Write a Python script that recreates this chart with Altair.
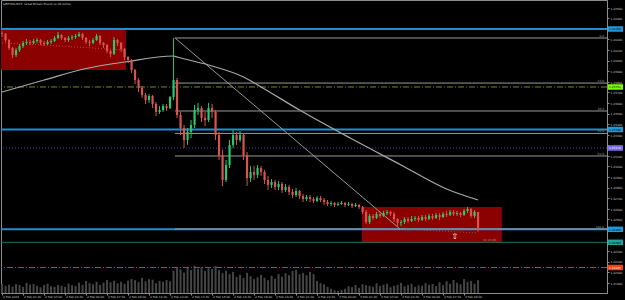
import altair as alt
import pandas as pd

TITLE = "GBPUSD,M15:  Great Britain Pound vs US Dollar"
FIRST_OPEN = 1.24261

close = [
    1.24252, 1.24195, 1.24119, 1.24053, 1.24100, 1.24138, 1.24167, 1.24176, 1.24167, 1.24186,
    1.24195, 1.24167, 1.24157, 1.24176, 1.24186, 1.24214, 1.24242, 1.24214, 1.24195, 1.24214,
    1.24223, 1.24233, 1.24252, 1.24214, 1.24176, 1.24167, 1.24195, 1.24233, 1.24167, 1.24148,
    1.24091, 1.24063, 1.24195, 1.24167, 1.24110, 1.24034, 1.24006, 1.23911, 1.23817, 1.23741,
    1.23675, 1.23628, 1.23666, 1.23590, 1.23515, 1.23533, 1.23571, 1.23552, 1.23656, 1.23817,
    1.23486, 1.23363, 1.23250, 1.23326, 1.23392, 1.23533, 1.23552, 1.23458, 1.23439, 1.23552,
    1.23515, 1.23297, 1.23108, 1.22872, 1.23014, 1.23203, 1.23297, 1.23250, 1.23297, 1.23108,
    1.22891, 1.22948, 1.22919, 1.22985, 1.22948, 1.22872, 1.22825, 1.22853, 1.22806, 1.22834,
    1.22777, 1.22806, 1.22759, 1.22730, 1.22768, 1.22721, 1.22692, 1.22711, 1.22692, 1.22674,
    1.22702, 1.22683, 1.22664, 1.22645, 1.22655, 1.22636, 1.22645, 1.22655, 1.22636, 1.22645,
    1.22626, 1.22636, 1.22617, 1.22570, 1.22475, 1.22532, 1.22513, 1.22551, 1.22532, 1.22560,
    1.22570, 1.22551, 1.22503, 1.22466, 1.22475, 1.22503, 1.22485, 1.22503, 1.22513, 1.22494,
    1.22522, 1.22503, 1.22532, 1.22513, 1.22541, 1.22522, 1.22551, 1.22541, 1.22570, 1.22551,
    1.22560, 1.22541, 1.22579, 1.22598, 1.22532, 1.22570, 1.22399]

high = [
    1.24280, 1.24261, 1.24204, 1.24129, 1.24119, 1.24157, 1.24186, 1.24204, 1.24195, 1.24204,
    1.24214, 1.24204, 1.24186, 1.24195, 1.24204, 1.24233, 1.24271, 1.24252, 1.24223, 1.24233,
    1.24242, 1.24252, 1.24271, 1.24261, 1.24223, 1.24195, 1.24214, 1.24252, 1.24242, 1.24176,
    1.24157, 1.24100, 1.24223, 1.24204, 1.24176, 1.24119, 1.24044, 1.24015, 1.23921, 1.23836,
    1.23760, 1.23694, 1.23685, 1.23675, 1.23609, 1.23571, 1.23590, 1.23590, 1.23666, 1.24214,
    1.23836, 1.23515, 1.23392, 1.23363, 1.23439, 1.23581, 1.23600, 1.23571, 1.23515, 1.23600,
    1.23590, 1.23533, 1.23326, 1.23155, 1.23061, 1.23250, 1.23344, 1.23326, 1.23335, 1.23316,
    1.23137, 1.23004, 1.23004, 1.23014, 1.23004, 1.22966, 1.22910, 1.22881, 1.22872, 1.22863,
    1.22853, 1.22834, 1.22825, 1.22787, 1.22796, 1.22777, 1.22740, 1.22730, 1.22730, 1.22711,
    1.22721, 1.22721, 1.22702, 1.22683, 1.22674, 1.22664, 1.22664, 1.22674, 1.22664, 1.22664,
    1.22655, 1.22655, 1.22645, 1.22626, 1.22588, 1.22551, 1.22551, 1.22570, 1.22570, 1.22579,
    1.22588, 1.22579, 1.22570, 1.22513, 1.22494, 1.22522, 1.22522, 1.22532, 1.22532, 1.22532,
    1.22541, 1.22541, 1.22551, 1.22551, 1.22560, 1.22560, 1.22570, 1.22579, 1.22588, 1.22588,
    1.22579, 1.22570, 1.22598, 1.22617, 1.22607, 1.22588, 1.22570]

low = [
    1.24223, 1.24176, 1.24100, 1.24025, 1.24034, 1.24082, 1.24119, 1.24148, 1.24148, 1.24157,
    1.24167, 1.24148, 1.24138, 1.24148, 1.24157, 1.24176, 1.24204, 1.24195, 1.24176, 1.24176,
    1.24195, 1.24204, 1.24223, 1.24195, 1.24157, 1.24138, 1.24157, 1.24186, 1.24148, 1.24119,
    1.24072, 1.24034, 1.24053, 1.24138, 1.24082, 1.24006, 1.23978, 1.23883, 1.23779, 1.23704,
    1.23647, 1.23590, 1.23600, 1.23552, 1.23477, 1.23496, 1.23515, 1.23524, 1.23543, 1.23628,
    1.23458, 1.23297, 1.23174, 1.23203, 1.23269, 1.23363, 1.23486, 1.23420, 1.23382, 1.23420,
    1.23458, 1.23250, 1.23061, 1.22815, 1.22853, 1.22985, 1.23174, 1.23203, 1.23231, 1.23061,
    1.22815, 1.22853, 1.22872, 1.22891, 1.22910, 1.22834, 1.22777, 1.22796, 1.22777, 1.22777,
    1.22749, 1.22759, 1.22730, 1.22702, 1.22711, 1.22692, 1.22664, 1.22674, 1.22664, 1.22655,
    1.22664, 1.22664, 1.22636, 1.22626, 1.22626, 1.22617, 1.22626, 1.22636, 1.22617, 1.22626,
    1.22607, 1.22617, 1.22598, 1.22551, 1.22456, 1.22456, 1.22494, 1.22503, 1.22513, 1.22522,
    1.22541, 1.22532, 1.22475, 1.22437, 1.22437, 1.22456, 1.22466, 1.22475, 1.22485, 1.22475,
    1.22485, 1.22485, 1.22494, 1.22494, 1.22503, 1.22494, 1.22513, 1.22522, 1.22532, 1.22532,
    1.22532, 1.22522, 1.22532, 1.22560, 1.22513, 1.22513, 1.22381]

volume = [
    92, 71, 83, 64, 88, 79, 62, 101, 84, 90, 73, 58, 81, 94, 69, 63, 80,
    72, 61, 93, 78, 70, 104, 82, 121, 99, 88, 112, 79, 103, 131, 108, 122, 97, 113, 91,
    124, 141, 128, 109, 152, 118, 139, 133, 98, 121, 112, 129, 117,
    223, 251, 238, 204, 262, 231, 274, 243, 259, 219, 248, 240, 271, 229, 198, 221, 188, 212,
    161, 183, 149, 202, 168, 139, 158, 181, 152, 128, 171, 142, 189, 163, 198, 179, 221, 232, 188,
    201, 178, 212, 189, 121, 98, 87, 61, 42, 28, 19,
    31, 42, 68, 59, 81, 52, 88, 79, 71, 62, 98, 69, 83, 91, 58, 72, 81, 102, 68, 79,
    92, 61, 78, 73, 99, 82, 91, 69, 108, 79, 118, 92, 131, 101, 88, 139, 112, 121, 93, 128]

time_labels = [
    "2 Feb 2023", "2 Feb 01:30", "2 Feb 03:00", "2 Feb 04:30", "2 Feb 06:00", "2 Feb 07:30",
    "2 Feb 09:00", "2 Feb 10:30", "2 Feb 12:00", "2 Feb 13:30", "2 Feb 15:00", "2 Feb 16:30",
    "2 Feb 18:00", "2 Feb 19:30", "2 Feb 21:00", "2 Feb 22:30", "3 Feb 00:00", "3 Feb 01:30",
    "3 Feb 03:00", "3 Feb 04:30", "3 Feb 06:00", "3 Feb 07:30", "3 Feb 09:00"]

# moving average
ma_idx = [0, 12, 24, 35, 49, 50, 59, 69, 74, 85, 100, 114, 127, 136]
ma_val = [1.23704, 1.23817, 1.23926, 1.23987, 1.24044, 1.24034, 1.23959, 1.23845,
          1.23751, 1.23533, 1.23259, 1.23014, 1.22787, 1.22683]

# dotted red line inside the first box
dot_idx = [0, 17, 35]
dot_val = [1.24167, 1.24138, 1.24100]

# rectangles
box_x1 = [-0.3, 102.8]
box_x2 = [35.4, 142.8]
box_top = [1.24289, 1.22617]
box_bot = [1.23911, 1.22277]

# fibonacci
fib_names = ["0.0", "23.6", "38.2", "50.0", "61.8", "100.0"]
fib_levels = [1.24214, 1.23788, 1.23524, 1.23312, 1.23099, 1.22409]
fib_from = 49.4
trend_idx = [49.4, 113.7]
trend_val = [1.24214, 1.22409]
trend2_idx = [113.7, 136.0]
trend2_val = [1.22409, 1.22371]

# horizontal price lines
hl_price = [1.24299, 1.23751, 1.23349, 1.23174, 1.22406, 1.22283, 1.22045]

# annotations
arrow_idx = [129.4]
arrow_val = [1.22333]
timer_idx = [137.4]
timer_val = [1.22310]
timer_text = ["11:13:36"]

# ---------------- styles ----------------
X_MIN, X_MAX = -0.3, 172.84
Y_MIN, Y_MAX = 1.21804, 1.24573
UP, DOWN = "#27c96a", "#d9534f"
hl_color = ["#1e8fd6", "#6b8e23", "#1e8fd6", "#4b3f9e", "#1e8fd6", "#1b6f6f", "#c0401a"]
hl_width = [2, 1, 2, 1, 2, 1, 1]
hl_dash = [None, [6, 2, 1, 2], None, [1, 2], None, None, [6, 2, 1, 2]]
tag_color = ["#1e9ae0", "#7cfc00", "#1e9ae0", "#7b68ee", "#1e9ae0", "#20a29a", "#ff4000"]
tag_text = ["#000000", "#000000", "#000000", "#ffffff", "#000000", "#000000", "#ffffff"]
FONT = "DejaVu Sans"
GREY = "#8c8c8c"
FS = 2.9

xscale = alt.Scale(domain=[X_MIN, X_MAX], nice=False, zero=False)
yscale = alt.Scale(domain=[Y_MIN, Y_MAX], nice=False, zero=False)

LABEL_EXPR = "[" + ",".join("'%s'" % t for t in time_labels) + "][round(datum.value/6)]"
XAXIS = alt.Axis(values=list(range(0, 6 * len(time_labels), 6)), labelExpr=LABEL_EXPR,
                 labelAlign="left", labelFontSize=FS, labelColor="#c8c8c8",
                 labelFont=FONT, tickColor=GREY, tickSize=2, domainColor=GREY,
                 grid=False, title=None, labelPadding=0.5, labelOverlap=False,
                 labelFlush=False, labelBaseline="top", labelOffset=0.5)
YAXIS = alt.Axis(orient="right", values=[round(1.219 + 0.001 * k, 3) for k in range(27)],
                 format=".5f", labelFontSize=FS, labelColor="#c8c8c8", labelFont=FONT,
                 tickColor=GREY, tickSize=2, domainColor=GREY, grid=False,
                 title=None, labelPadding=1, labelOverlap=False, labelFlush=False)


def X(field):
    return alt.X(field, type="quantitative", scale=xscale, axis=XAXIS)


def Y(field):
    return alt.Y(field, type="quantitative", scale=yscale, axis=YAXIS)


opens = [FIRST_OPEN] + close[:-1]
candles = pd.DataFrame({
    "i": list(range(len(close))), "open": opens, "close": close,
    "high": high, "low": low,
})
candles["dir"] = ["up" if c >= o else "down" for o, c in zip(opens, close)]
cscale = alt.Color("dir:N", scale=alt.Scale(domain=["up", "down"], range=[UP, DOWN]), legend=None)

vol_df = pd.DataFrame({"i": list(range(len(volume))), "v": volume})
box_df = pd.DataFrame({"x1": box_x1, "x2": box_x2, "t": box_top, "b": box_bot})
ma_df = pd.DataFrame({"i": ma_idx, "v": ma_val})
dot_df = pd.DataFrame({"i": dot_idx, "v": dot_val})
fib_df = pd.DataFrame({"name": fib_names, "p": fib_levels,
                       "x1": [fib_from] * len(fib_levels), "x2": [X_MAX] * len(fib_levels)})
tr_df = pd.DataFrame({"i": trend_idx, "v": trend_val})
tr2_df = pd.DataFrame({"i": trend2_idx, "v": trend2_val})

volume_layer = alt.Chart(vol_df).mark_rule(color="#454545", strokeWidth=2).encode(
    x=X("i"),
    y=alt.Y("v:Q", scale=alt.Scale(domain=[0, 2930], nice=False), axis=None),
    y2=alt.datum(0),
)

boxes = alt.Chart(box_df).mark_rect(color="#8b0000").encode(
    x=X("x1"), x2="x2", y=Y("t"), y2="b")

layers = [boxes]
for k, p in enumerate(hl_price):
    kw = dict(color=hl_color[k], strokeWidth=hl_width[k])
    if hl_dash[k]:
        kw["strokeDash"] = hl_dash[k]
    layers.append(alt.Chart(pd.DataFrame({"p": [p]})).mark_rule(**kw).encode(y=Y("p")))

fib_lines = alt.Chart(fib_df).mark_rule(color="#9a9a9a", strokeWidth=1).encode(
    x=X("x1"), x2="x2", y=Y("p"))
fib_text = alt.Chart(fib_df).mark_text(color="#a0a0a0", fontSize=FS, font=FONT,
                                       align="right", baseline="bottom", dy=-0.5).encode(
    x=alt.value(603), y=Y("p"), text="name:N")
trend = alt.Chart(tr_df).mark_line(color="#9a9a9a", strokeWidth=1).encode(x=X("i"), y=Y("v"))
trend2 = alt.Chart(tr2_df).mark_line(color="#6e6e6e", strokeWidth=0.8, strokeDash=[1, 2]).encode(
    x=X("i"), y=Y("v"))
ma = alt.Chart(ma_df).mark_line(color="#a8a8a8", strokeWidth=1.2, interpolate="monotone").encode(
    x=X("i"), y=Y("v"))
dotted = alt.Chart(dot_df).mark_line(color="#d04040", strokeWidth=1, strokeDash=[1, 2]).encode(
    x=X("i"), y=Y("v"))

wicks = alt.Chart(candles).mark_rule(strokeWidth=1).encode(
    x=X("i"), y=Y("low"), y2="high", color=cscale)
bodies = alt.Chart(candles).mark_rule(strokeWidth=2.2).encode(
    x=X("i"), y=Y("open"), y2="close", color=cscale)

layers += [fib_lines, fib_text, trend, trend2, ma, dotted, wicks, bodies]

for k, p in enumerate(hl_price):
    d = pd.DataFrame({"p": [p], "t": ["%.5f" % p]})
    layers.append(alt.Chart(d).mark_rule(color=tag_color[k], strokeWidth=5.5).encode(
        x=alt.value(607), x2=alt.value(622), y=Y("p")))
    layers.append(alt.Chart(d).mark_text(color=tag_text[k], fontSize=FS, font=FONT,
                                         align="left", baseline="middle").encode(
        x=alt.value(608), y=Y("p"), text="t:N"))

arrow = alt.Chart(pd.DataFrame({"i": arrow_idx, "v": arrow_val, "t": ["\u21e7"]})).mark_text(
    color="#ffffff", fontSize=8, font=FONT).encode(x=X("i"), y=Y("v"), text="t:N")
timer = alt.Chart(pd.DataFrame({"i": timer_idx, "v": timer_val, "t": timer_text})).mark_text(
    color="#a0a0a0", fontSize=FS, font=FONT, align="left").encode(x=X("i"), y=Y("v"), text="t:N")
title = alt.Chart(pd.DataFrame({"t": [TITLE]})).mark_text(
    color="#d0d0d0", fontSize=FS, font=FONT, align="left", baseline="middle").encode(
    x=alt.value(2), y=alt.value(4), text="t:N")
layers += [arrow, timer, title]

price_layer = alt.layer(*layers)
chart = alt.layer(volume_layer, price_layer).resolve_scale(y="independent").properties(
    width=606, height=293,
    padding={"left": 1, "top": 0, "right": 18, "bottom": 7},
    autosize=alt.AutoSizeParams(type="none"),
    background="#000000",
).configure_view(stroke=GREY, strokeWidth=1, fill="#000000")

chart.save("out.html", embed_options={"renderer": "svg", "actions": False})
